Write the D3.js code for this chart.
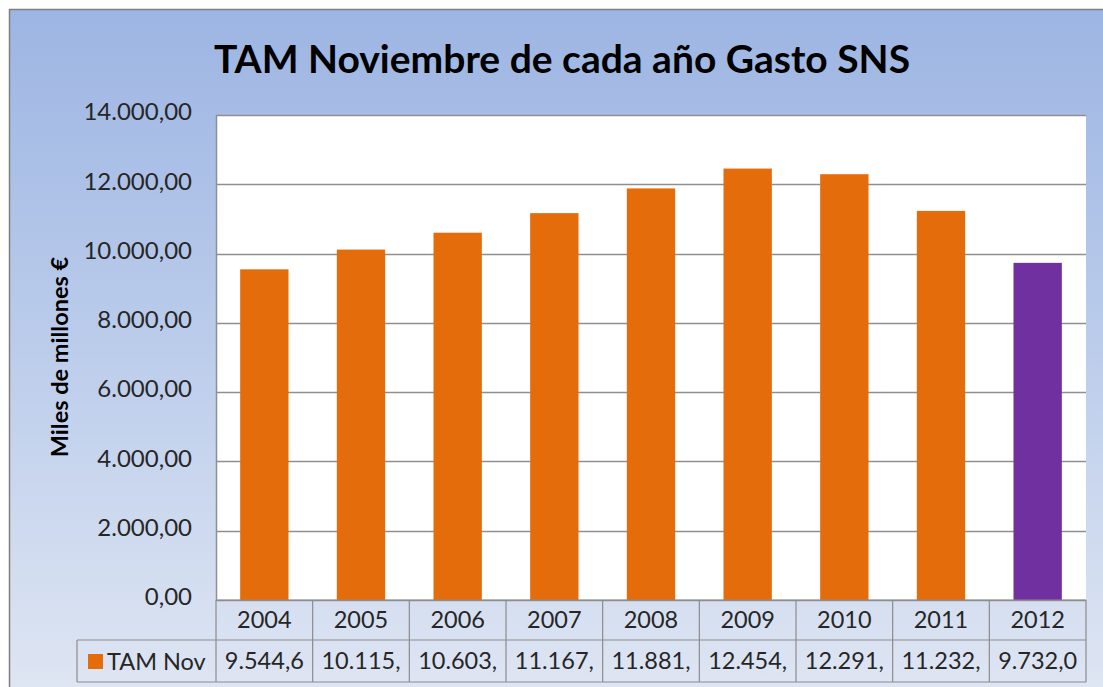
<!DOCTYPE html>
<html><head><meta charset="utf-8">
<script src="https://cdn.jsdelivr.net/npm/d3@7"></script>
<style>html,body{margin:0;padding:0;background:#fff;}svg{display:block;}</style>
</head><body>
<script>
const categories = ["2004","2005","2006","2007","2008","2009","2010","2011","2012"];
const values = [9544.6, 10115, 10603, 11167, 11881, 12454, 12291, 11232, 9732.0];
const tableLabels = ["9.544,6","10.115,","10.603,","11.167,","11.881,","12.454,","12.291,","11.232,","9.732,0"];
const yTicks = [0,2000,4000,6000,8000,10000,12000,14000];
const seriesName = "TAM Nov";
const title = "TAM Noviembre de cada año Gasto SNS";
const yTitle = "Miles de millones €";

const W = 1103, H = 687;
const font = "Lato, 'Open Sans', sans-serif";
const svg = d3.select("body").append("svg").attr("width", W).attr("height", H);
const defs = svg.append("defs");
const grad = defs.append("linearGradient").attr("id","bg").attr("x1",0).attr("y1",0).attr("x2",0).attr("y2",1);
grad.append("stop").attr("offset","0%").attr("stop-color","#9db5e3");
grad.append("stop").attr("offset","50%").attr("stop-color","#bccdeb");
grad.append("stop").attr("offset","100%").attr("stop-color","#dfe6f3");

svg.append("rect").attr("x",9.5).attr("y",9.5).attr("width",W).attr("height",H)
  .attr("fill","url(#bg)").attr("stroke","#7f7f7f").attr("stroke-width",1.5);

const plot = {l:216, r:1086, t:115, b:600};
const x = d3.scaleBand().domain(categories).range([plot.l, plot.r]).paddingInner(0.5).paddingOuter(0.25);
const xc = d3.scaleBand().domain(categories).range([plot.l, plot.r]);
const y = d3.scaleLinear().domain([0,14000]).range([plot.b, plot.t]);

svg.append("rect").attr("x",plot.l).attr("y",plot.t).attr("width",plot.r-plot.l).attr("height",plot.b-plot.t).attr("fill","#fff");

const grid = svg.append("g");
grid.selectAll("line").data(yTicks).join("line")
  .attr("x1",plot.l).attr("x2",plot.r)
  .attr("y1",d=>Math.round(y(d))+0.5).attr("y2",d=>Math.round(y(d))+0.5)
  .attr("stroke","#8f8f8f").attr("stroke-width",1.5);
svg.append("line").attr("x1",plot.l+0.5).attr("x2",plot.l+0.5).attr("y1",plot.t).attr("y2",plot.b)
  .attr("stroke","#8f8f8f").attr("stroke-width",1.5);

const fmt = v => d3.formatLocale({decimal:",", thousands:".", grouping:[3]}).format(",.2f")(v);
const yAxis = d3.axisLeft(y).tickValues(yTicks).tickFormat(fmt).tickSize(0).tickPadding(24);
const ya = svg.append("g").attr("transform",`translate(${plot.l},0)`).call(yAxis);
ya.select(".domain").remove();
ya.selectAll("text").attr("font-family",font).attr("font-size",24).attr("fill","#262626").attr("dy","0.2em");

svg.append("g").selectAll("rect").data(values).join("rect")
  .attr("x",(d,i)=>x(categories[i])).attr("width",x.bandwidth())
  .attr("y",d=>y(d)).attr("height",d=>y(0)-y(d))
  .attr("fill",(d,i)=>i===values.length-1?"#7030a0":"#e46c0a");

svg.append("text").attr("x",562).attr("y",73).attr("text-anchor","middle")
  .attr("font-family",font).attr("font-weight","bold").attr("font-size",39).attr("fill","#000").text(title);

svg.append("text").attr("transform","translate(68,357) rotate(-90)").attr("text-anchor","middle")
  .attr("font-family",font).attr("font-weight","bold").attr("font-size",23.5).attr("fill","#000").text(yTitle);

// data table
const row1 = {t:600, b:640}, row2 = {t:640, b:682};
const tbl = svg.append("g").attr("stroke","#8c8c8c").attr("stroke-width",1.2);
tbl.append("line").attr("x1",plot.l).attr("x2",plot.r).attr("y1",row1.t).attr("y2",row1.t);
tbl.append("line").attr("x1",77).attr("x2",plot.r).attr("y1",row1.b).attr("y2",row1.b);
tbl.append("line").attr("x1",77).attr("x2",plot.r).attr("y1",row2.b).attr("y2",row2.b);
tbl.append("line").attr("x1",77).attr("x2",77).attr("y1",row2.t).attr("y2",row2.b);
tbl.selectAll(".v").data(categories).join("line").attr("class","v")
  .attr("x1",d=>xc(d)).attr("x2",d=>xc(d)).attr("y1",row1.t).attr("y2",row2.b);
tbl.append("line").attr("x1",plot.r).attr("x2",plot.r).attr("y1",row1.t).attr("y2",row2.b);

svg.append("g").selectAll("text").data(categories).join("text")
  .attr("x",d=>xc(d)+xc.bandwidth()/2).attr("y",(row1.t+row1.b)/2+8).attr("text-anchor","middle")
  .attr("font-family",font).attr("font-size",23.5).style("font-variant-numeric","tabular-nums")
  .attr("fill","#262626").text(d=>d);
svg.append("g").selectAll("text").data(tableLabels).join("text")
  .attr("x",(d,i)=>xc(categories[i])+xc.bandwidth()/2).attr("y",(row2.t+row2.b)/2+8).attr("text-anchor","middle")
  .attr("font-family",font).attr("font-size",23.5).style("font-variant-numeric","tabular-nums")
  .attr("fill","#262626").text(d=>d);

svg.append("rect").attr("x",88).attr("y",654).attr("width",15).attr("height",15).attr("fill","#e46c0a");
svg.append("text").attr("x",107).attr("y",670).attr("font-family",font).attr("font-size",23.5).attr("fill","#262626").text(seriesName);
</script>
</body></html>
